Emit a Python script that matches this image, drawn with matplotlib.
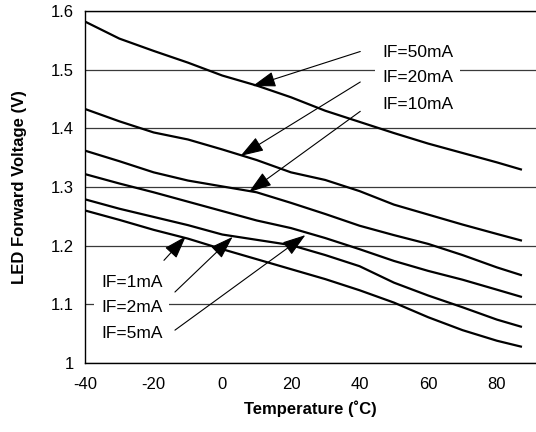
import matplotlib

matplotlib.use("Agg")
import matplotlib.pyplot as plt

plt.rcParams["font.family"] = ["Liberation Sans", "DejaVu Sans"]

# Forward voltage vs ambient temperature, one curve per forward current.
temps = [-40, -30, -20, -10, 0, 10, 20, 30, 40, 50, 60, 70, 80, 87]
vf_50ma = [1.582, 1.553, 1.532, 1.512, 1.490, 1.473, 1.453, 1.430, 1.411, 1.392,
           1.374, 1.358, 1.342, 1.330]
vf_20ma = [1.433, 1.412, 1.393, 1.381, 1.364, 1.346, 1.325, 1.312, 1.293, 1.270,
           1.253, 1.236, 1.220, 1.209]
vf_10ma = [1.362, 1.344, 1.325, 1.311, 1.301, 1.291, 1.273, 1.254, 1.234, 1.218,
           1.203, 1.184, 1.163, 1.150]
vf_5ma = [1.322, 1.306, 1.291, 1.275, 1.259, 1.243, 1.230, 1.213, 1.194, 1.174,
          1.157, 1.142, 1.125, 1.113]
vf_2ma = [1.279, 1.263, 1.249, 1.235, 1.219, 1.210, 1.201, 1.184, 1.165, 1.137,
          1.115, 1.095, 1.074, 1.062]
vf_1ma = [1.260, 1.244, 1.227, 1.212, 1.194, 1.177, 1.160, 1.143, 1.124, 1.103,
          1.078, 1.056, 1.038, 1.028]

x_ticks = [-40, -20, 0, 20, 40, 60, 80]
y_ticks = [1.0, 1.1, 1.2, 1.3, 1.4, 1.5, 1.6]
y_tick_labels = ["1", "1.1", "1.2", "1.3", "1.4", "1.5", "1.6"]

# label text, text anchor (T, V), arrow tip (T, V), arrow tail (T, V)
upper_labels = [
    ("IF=50mA", (46.6, 1.530), (8.8, 1.472), (40.2, 1.531)),
    ("IF=20mA", (46.6, 1.487), (5.3, 1.353), (40.2, 1.479)),
    ("IF=10mA", (46.6, 1.441), (7.7, 1.291), (40.2, 1.429)),
]
lower_labels = [
    ("IF=1mA", (-35.3, 1.138), (-10.6, 1.216), (-17.0, 1.175)),
    ("IF=2mA", (-35.3, 1.095), (3.0, 1.215), (-13.8, 1.121)),
    ("IF=5mA", (-35.3, 1.051), (24.2, 1.218), (-13.8, 1.056)),
]

fig = plt.figure(figsize=(5.36, 4.32), dpi=100)
ax = fig.add_axes([0.1586, 0.1597, 0.8414, 0.8148])

for ys in (vf_50ma, vf_20ma, vf_10ma, vf_5ma, vf_2ma, vf_1ma):
    ax.plot(temps, ys, color="black", lw=1.6, zorder=3)

ax.set_xlim(-40, 91.4)
ax.set_ylim(1.0, 1.6)
ax.set_xticks(x_ticks)
ax.set_xticklabels([str(t) for t in x_ticks])
ax.set_yticks(y_ticks)
ax.set_yticklabels(y_tick_labels)
ax.tick_params(length=0, labelsize=12)
ax.tick_params(axis="x", pad=10)
ax.tick_params(axis="y", pad=8)
ax.grid(True, axis="y", color="#3a3a3a", lw=0.9)
ax.axhline(1.6, color="black", lw=1.0, clip_on=False)
for side in ("top", "right"):
    ax.spines[side].set_visible(False)
for side in ("left", "bottom"):
    ax.spines[side].set_linewidth(1.0)

ax.set_xlabel("Temperature (˚C)", fontsize=12, fontweight="bold", labelpad=6)
ax.set_ylabel("LED Forward Voltage (V)", fontsize=12, fontweight="bold", labelpad=17)

arrow = dict(arrowstyle="-|>,head_length=0.9,head_width=0.3", color="black",
             lw=0.8, mutation_scale=16, shrinkA=0, shrinkB=0)
box = dict(facecolor="white", edgecolor="none", pad=5)

for text, pos, tip, tail in upper_labels + lower_labels:
    ax.text(pos[0], pos[1], text, fontsize=12.5, ha="left", va="center",
            bbox=box, zorder=4)
    ax.annotate("", xy=tip, xytext=tail, arrowprops=arrow, zorder=5)

fig.savefig("out.png", dpi=100)
